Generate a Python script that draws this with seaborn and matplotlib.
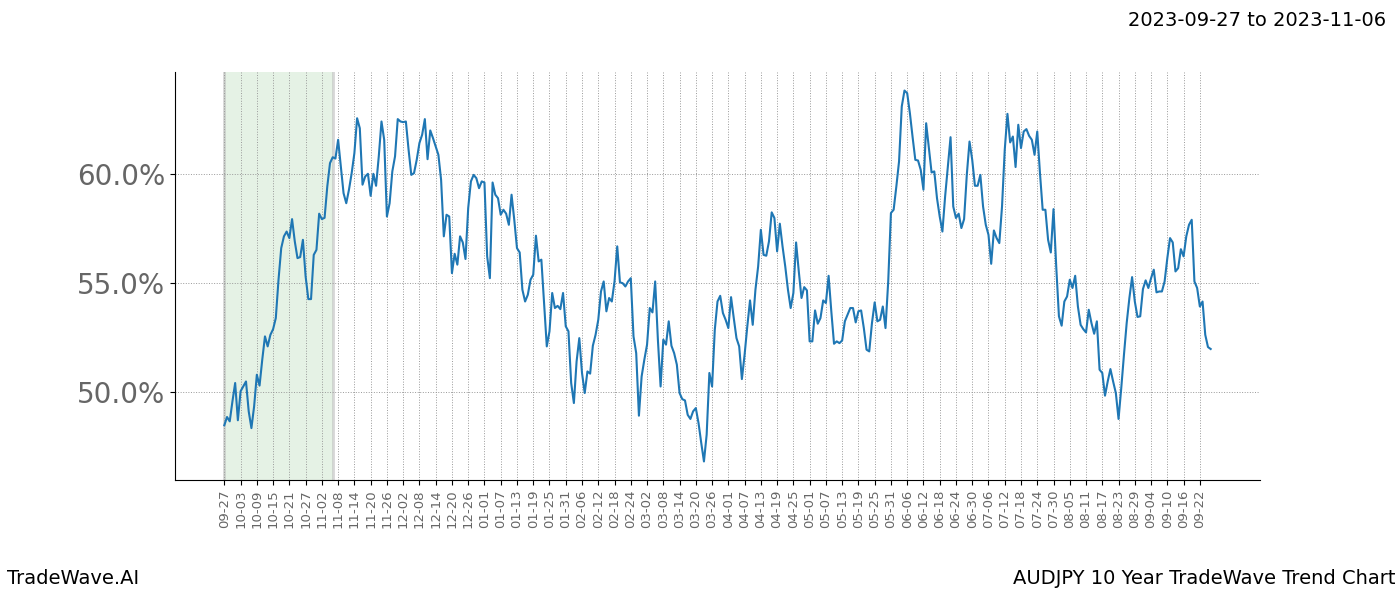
import matplotlib
matplotlib.use("Agg")
import matplotlib.pyplot as plt
import seaborn as sns
import numpy as np
import pandas as pd
from matplotlib.ticker import MultipleLocator, FuncFormatter

title_text = "2023-09-27 to 2023-11-06"
left_footer = "TradeWave.AI"
right_footer = "AUDJPY 10 Year TradeWave Trend Chart"
highlight_range = [0, 40]  # day indices of 2023-09-27 .. 2023-11-06
tick_step = 6
tick_labels = [
    "09-27", "10-03", "10-09", "10-15", "10-21", "10-27", "11-02", "11-08",
    "11-14", "11-20", "11-26", "12-02", "12-08", "12-14", "12-20", "12-26",
    "01-01", "01-07", "01-13", "01-19", "01-25", "01-31", "02-06", "02-12",
    "02-18", "02-24", "03-02", "03-08", "03-14", "03-20", "03-26", "04-01",
    "04-07", "04-13", "04-19", "04-25", "05-01", "05-07", "05-13", "05-19",
    "05-25", "05-31", "06-06", "06-12", "06-18", "06-24", "06-30", "07-06",
    "07-12", "07-18", "07-24", "07-30", "08-05", "08-11", "08-17", "08-23",
    "08-29", "09-04", "09-10", "09-16", "09-22",
]

seg_a = [
    48.46, 48.84, 48.64, 49.56, 50.40, 48.69, 50.02, 50.24, 50.47, 49.10,
    48.33, 49.33, 50.78, 50.28, 51.47, 52.54, 52.08, 52.61, 52.87, 53.38,
    55.14, 56.59, 57.13, 57.35, 57.05, 57.92, 56.90, 56.13, 56.18, 56.97,
    55.29, 54.25, 54.25, 56.28, 56.51, 58.17, 57.92, 57.98, 59.42, 60.49,
    60.76, 60.70, 61.56, 60.34, 59.11, 58.65, 59.27, 60.03, 60.95, 62.55,
    62.09, 59.50, 59.88, 60.00, 58.99, 60.00, 59.45, 60.80, 62.40, 61.56,
    58.04, 58.65, 60.11, 60.80, 62.51, 62.40, 62.37, 62.40, 61.10, 59.95,
    60.03, 60.64, 61.41, 61.79, 62.51, 60.67, 61.99, 61.64, 61.25, 60.87,
    59.72, 57.13, 58.12, 58.04,
]
seg_b = [
    55.44, 56.33, 55.83, 57.13, 56.85, 56.09, 58.43, 59.65, 59.95, 59.80,
    59.34, 59.65, 59.60, 56.21, 55.21, 59.60, 59.04, 58.88, 58.12, 58.35,
    58.17, 57.66, 59.04, 57.89, 56.59, 56.39, 54.68, 54.14, 54.45, 55.14,
    55.37, 57.16, 55.98, 56.06, 54.07, 52.08, 52.77, 54.53, 53.84, 53.94,
    53.79, 54.53, 53.00, 52.77, 50.40, 49.48, 51.39, 52.46, 50.86, 49.94,
    50.93, 50.83, 52.11, 52.61, 53.30, 54.60, 55.06, 53.69, 54.30, 54.14,
    55.06, 56.67, 55.02, 54.98, 54.83, 55.06, 55.21, 52.54, 51.77, 48.90,
    50.70, 51.47, 52.16, 53.84, 53.64, 55.06, 52.39, 50.24, 52.39, 52.16,
    53.23, 52.11, 51.77, 51.24, 49.94, 49.66, 49.60, 48.94, 48.75, 49.10,
    49.25, 48.56, 47.65, 46.80, 48.03,
]
seg_c = [
    50.86, 50.24, 52.84, 54.14, 54.40, 53.61, 53.30, 52.92, 54.34, 53.38,
    52.46, 52.08, 50.58, 51.70, 53.00, 54.19, 53.07, 54.68, 55.75, 57.43,
    56.28, 56.24, 56.90, 58.23, 57.97, 56.44, 57.71, 56.67, 55.75, 54.68,
    53.84, 54.53, 56.85, 55.52, 54.30, 54.80, 54.65, 52.31, 52.31, 53.73,
    53.12, 53.38, 54.19, 54.07, 55.32, 53.69, 52.20, 52.31, 52.23, 52.35,
    53.23, 53.53, 53.84, 53.84, 53.18, 53.69, 53.73, 52.92, 51.93, 51.85,
    53.15, 54.10, 53.23, 53.30, 53.91, 52.92, 55.06, 58.20, 58.35, 59.42,
    60.57, 63.09, 63.82, 63.70, 62.78, 61.68, 60.64, 60.61, 60.18, 59.27,
    62.32, 61.18, 60.06, 60.11, 58.88, 58.04, 57.35, 58.96, 60.34, 61.68,
    58.50, 57.97, 58.17, 57.51, 57.92,
]
seg_d = [
    59.95, 61.48, 60.64, 59.45, 59.45, 59.95, 58.50, 57.66, 57.20, 55.87,
    57.40, 57.05, 56.82, 58.50, 61.10, 62.75, 61.44, 61.71, 60.31, 62.25,
    61.18, 61.94, 62.05, 61.74, 61.56, 60.87, 61.94, 60.03, 58.35, 58.35,
    56.97, 56.39, 58.38, 55.75, 53.46, 53.03, 54.14, 54.37, 55.14, 54.76,
    55.32, 53.91, 53.07, 52.87, 52.72, 53.76, 53.15, 52.66, 53.23, 51.01,
    50.86, 49.82, 50.47, 51.04, 50.47, 49.94, 48.75, 50.17, 51.70, 53.15,
    54.30, 55.26, 54.14, 53.43, 53.46, 54.71, 55.11, 54.76, 55.21, 55.60,
    54.56, 54.60, 54.60, 55.06, 56.13, 57.05, 56.85, 55.52, 55.67, 56.54,
    56.21, 57.13, 57.66, 57.89, 55.06, 54.76, 53.91, 54.14, 52.61, 52.05,
    51.96,
]
values = seg_a + seg_b + seg_c + seg_d

df = pd.DataFrame({"idx": np.arange(len(values)), "value": values})

fig = plt.figure(figsize=(14, 6), dpi=100)
ax = fig.add_axes([0.125, 0.2, 0.775, 0.68])

ax.axvspan(highlight_range[0], highlight_range[1], facecolor="green", alpha=0.1,
           edgecolor="none", zorder=0)
ax.axvline(highlight_range[0], color="#bbbbbb", lw=2, alpha=0.6, zorder=0)
ax.axvline(highlight_range[1], color="#bbbbbb", lw=2, alpha=0.6, zorder=0)

sns.lineplot(data=df, x="idx", y="value", ax=ax, color="#1f77b4", linewidth=1.5)

tick_pos = [i * tick_step for i in range(len(tick_labels))]
ax.set_xticks(tick_pos)
ax.set_xticklabels(tick_labels, rotation=90, fontsize=9.5, color="#666666")
ax.yaxis.set_major_locator(MultipleLocator(5))
ax.yaxis.set_major_formatter(FuncFormatter(lambda v, p: f"{v:.1f}%"))
ax.tick_params(axis="y", labelsize=20, labelcolor="#666666")
ax.set_xlabel("")
ax.set_ylabel("")
ax.grid(True, linestyle=":", color="#999999", linewidth=0.7)
ax.set_axisbelow(True)
sns.despine(ax=ax)

fig.text(0.99, 0.965, title_text, ha="right", va="center", fontsize=14, color="black")
fig.text(0.005, 0.02, left_footer, ha="left", va="bottom", fontsize=14, color="black")
fig.text(0.997, 0.02, right_footer, ha="right", va="bottom", fontsize=14, color="black")

fig.savefig("out.png", dpi=100)
